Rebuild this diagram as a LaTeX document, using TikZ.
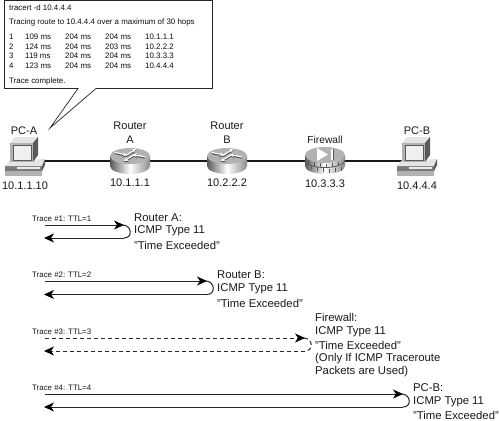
\documentclass[tikz,border=0pt]{standalone}
\usepackage{fontspec}
\setmainfont{Liberation Sans}
\usetikzlibrary{arrows.meta,calc}
\definecolor{gA}{gray}{0.90}
\definecolor{gB}{gray}{0.70}
\definecolor{gC}{gray}{0.35}
\tikzset{
 lbl/.style={inner sep=0pt,font=\fontsize{11}{13}\selectfont,text=black!90},
 lbll/.style={inner sep=0pt,anchor=west,font=\fontsize{11.3}{13}\selectfont,text=black!90},
 ttl/.style={inner sep=0pt,anchor=west,font=\fontsize{7.9}{9}\selectfont,text=black!90},
 cout/.style={inner sep=0pt,anchor=west,font=\fontsize{7.9}{9}\selectfont,text=black!95},
 link/.style={line width=1.1pt,black!90},
 trace/.style={line width=1pt,black!85},
 tip/.style={-{Stealth[length=10pt,width=9pt,inset=3pt,color=black]}},
 dsh/.style={dash pattern=on 4pt off 3pt},
}
\newcommand{\cylbody}{%
   \path[left color=gC,right color=gC!70,middle color=white] (-20,-5) -- (-20,5) .. controls (-20,9.5) and (-11,13) .. (0,13) .. controls (11,13) and (20,9.5) .. (20,5) -- (20,-5) -- cycle;
   \fill[gB] (0,-5) ellipse[x radius=20,y radius=8];}
\newcommand{\routerdev}[2]{%
  \begin{scope}[shift={(#1,#2)}]
   \cylbody
   \begin{scope}[line width=1.4pt,black!70,-{Stealth[length=4.5pt,width=4.5pt]}]
    \draw (-15,-7.5) -- (-3,-5);
    \draw (15,-3) -- (3,-5.5);
    \draw (-4,-4.5) -- (6,-11);
    \draw (4,-5) -- (-6,1);
   \end{scope}
   \begin{scope}[line width=1.2pt,white,-{Stealth[length=4pt,width=4pt]}]
    \draw (-15,-8.5) -- (-3,-6);
    \draw (15,-4) -- (3,-6.5);
    \draw (-4,-5.5) -- (6,-12);
    \draw (4,-6) -- (-6,0);
   \end{scope}
  \end{scope}}
\newcommand{\pc}[2]{%
  \begin{scope}[shift={(#1,#2)}]
   % foot
   \fill[gB] (-20,23) -- (17,23) -- (17,29) -- (-20,29) -- cycle;
   % base
   \fill[gC!80] (-20,19) rectangle (17,24);
   \fill[gA] (-20,19) -- (-14,12) -- (20,12) -- (17,19) -- cycle;
   \fill[gC] (17,19) -- (20,12) -- (20,18) -- (17,24) -- cycle;
   \fill[gA!80] (-8,20) rectangle (15,21.5);
   % monitor
   \fill[gA] (-15,-4) -- (-10,-10) -- (13,-10) -- (8,-4) -- cycle;
   \fill[gC] (8,-4) -- (13,-10) -- (13,8) -- (8,15) -- cycle;
   \fill[gB] (-15,-4) rectangle (8,15);
   \fill[black!6] (-12,-2) rectangle (6,13);
   \draw[gC,line width=.6pt] (-12,-2) rectangle (6,13);
  \end{scope}}
\begin{document}
\begin{tikzpicture}[x=1pt,y=-1pt]
\useasboundingbox[fill=white] (0,0) rectangle (500,420);
% connectors
\coordinate (pcaC) at (25,161);
\coordinate (raC) at (130,161);
\coordinate (rbC) at (227,161);
\coordinate (fwC) at (325,161);
\coordinate (pcbC) at (417,161);
\draw[link] (pcaC) -- (raC);
\draw[link] (raC) -- (rbC);
\draw[link] (rbC) -- (fwC);
\draw[link] (fwC) -- (pcbC);
% devices
\pc{25}{147}
\pc{417}{147}
\routerdev{130}{161}
\routerdev{227}{161}
\begin{scope}[shift={(325,161)}]
 \path[left color=gC,right color=gC!70,middle color=white] (-20,-6) -- (-20,5) .. controls (-20,9.5) and (-11,13) .. (0,13) .. controls (11,13) and (20,9.5) .. (20,5) -- (20,-6) -- cycle;
 \foreach \x/\yy in {-17/-1,-11/1,-5/2,1/2.5,7/2,13/1}{
  \draw[gC,line width=.5pt] (\x,\yy) -- (\x,\yy+4);
  \draw[gC,line width=.5pt] (\x+3,\yy+5) -- (\x+3,\yy+9);}
 \draw[gC,line width=.8pt] (-20,-1) .. controls (-20,3.5) and (-11,6.5) .. (0,6.5) .. controls (11,6.5) and (20,3.5) .. (20,-1);
 \fill[gB] (0,-6) ellipse[x radius=20,y radius=8];
 \fill[white] (-8,-13) -- (3,-6.5) -- (-8,0) -- cycle;
 \draw[white,line width=2pt] (7,-12.5) -- (7,-1);
 \draw[gC,line width=.5pt] (8.3,-12.5) -- (8.3,-1);
\end{scope}
% device labels
\node[lbl] (pca) at (24,131) {PC-A};
\node[lbl] (ipa) at (25,186) {10.1.1.10};
\node[lbl] (ra1) at (130,126) {Router};
\node[lbl] (ra2) at (130,140) {A};
\node[lbl] (ipra) at (130,183) {10.1.1.1};
\node[lbl] (rb1) at (227,126) {Router};
\node[lbl] (rb2) at (227,140) {B};
\node[lbl] (iprb) at (227,183) {10.2.2.2};
\node[lbl,font=\fontsize{10.2}{12}\selectfont] (fw) at (325,139.5) {Firewall};
\node[lbl] (ipfw) at (325,184) {10.3.3.3};
\node[lbl] (pcb) at (417,131) {PC-B};
\node[lbl] (ipb) at (417,186) {10.4.4.4};
% callout
\draw[black!85,line width=.7pt,fill=white] (4.5,0.5) -- (212.5,0.5) -- (212.5,88.5) -- (96,88.5) -- (50,128) -- (78,88.5) -- (4.5,88.5) -- cycle;
\node[cout] (c0) at (9,8) {tracert -d 10.4.4.4};
\node[cout] (c1) at (9,22) {Tracing route to 10.4.4.4 over a maximum of 30 hops};
\foreach \y/\n/\a/\b/\c/\d in {37/1/109/204/204/10.1.1.1,46.5/2/124/204/203/10.2.2.2,56/3/119/204/204/10.3.3.3,66/4/123/204/204/10.4.4.4}{
 \node[cout] at (9,\y) {\n};
 \node[cout] at (25,\y) {\a{} ms};
 \node[cout] at (65,\y) {\b{} ms};
 \node[cout] at (105,\y) {\c{} ms};
 \node[cout] at (145,\y) {\d};
}
\node[cout] (c2) at (9,81) {Trace complete.};
% traces
\foreach \n/\lab/\ya/\yb/\xe/\st in {1/Trace \#1: TTL=1/225/238/124/solid,2/Trace \#2: TTL=2/281/294.5/207/solid,3/Trace \#3: TTL=3/338/351/305/dsh,4/Trace \#4: TTL=4/394/407/403/solid}{
 \node[ttl] (t\n) at (32,\ya-6.5) {\lab};
 \coordinate (s\n) at (45,\ya);
 \coordinate (e\n) at (\xe,\ya);
 \coordinate (b\n) at (\xe,\yb);
 \coordinate (f\n) at (44,\yb);
 \draw[trace,\st,tip] (s\n) -- (e\n);
 \draw[trace,\st,tip] (b\n) -- (f\n);
 \draw[trace,\st] (e\n) ++(-1,0) .. controls +(9,0.5) and +(9,0) .. (b\n);
}
\node[lbll] at (134,218) {Router A:};
\node[lbll] at (134,231) {ICMP Type 11};
\node[lbll] at (134,245) {"Time Exceeded"};
\node[lbll] at (217,275) {Router B:};
\node[lbll] at (217,289) {ICMP Type 11};
\node[lbll] at (217,303) {"Time Exceeded"};
\node[lbll] at (315,317) {Firewall:};
\node[lbll] at (315,332) {ICMP Type 11};
\node[lbll] at (315,345) {"Time Exceeded"};
\node[lbll] at (315,359) {(Only If ICMP Traceroute};
\node[lbll] at (315,372) {Packets are Used)};
\node[lbll] at (413,388) {PC-B:};
\node[lbll] at (413,402) {ICMP Type 11};
\node[lbll] at (413,415) {"Time Exceeded"};
\end{tikzpicture}
\end{document}
